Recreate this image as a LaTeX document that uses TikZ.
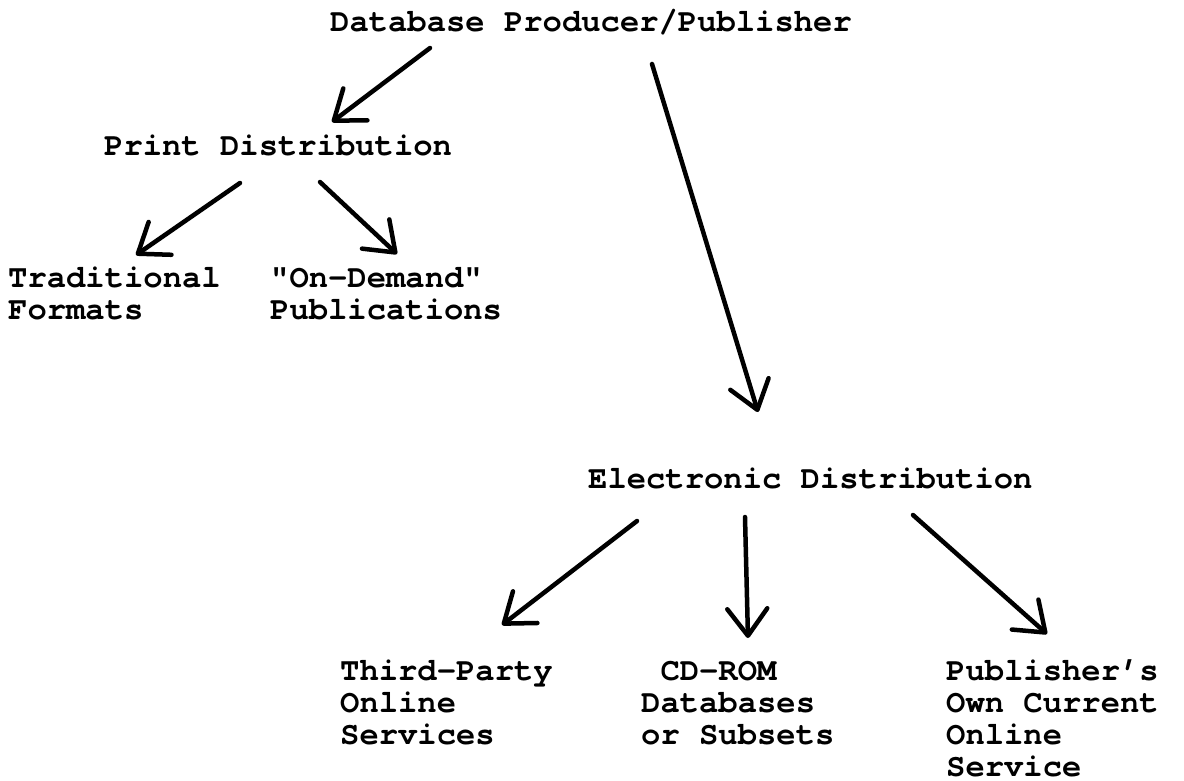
\documentclass[tikz,border=0pt]{standalone}
\usepackage{fontspec}
\setmonofont{TeX Gyre Cursor}
\usetikzlibrary{arrows.meta,calc}
\newcommand\chartfont{\ttfamily\bfseries\fontsize{32.2}{32}\selectfont}
\tikzset{
  % multi-line labels are placed by the baseline of their last line
  txt/.style={anchor=base west, inner sep=0pt, align=left, font=\chartfont},
  arr/.style={line width=4.5pt, line cap=round,
    -{Straight Barb[length=27pt,width=40pt,line width=4.5pt,round]}}
}
\begin{document}
\begin{tikzpicture}[x=1pt,y=-1pt]
\path[use as bounding box, fill=white] (0,0) rectangle (1184,781);

% labels
\node[txt] (db)    at (330,32)  {Database Producer/Publisher};
\node[txt] (print) at (104,156) {Print Distribution};
\node[txt] (trad)  at (8,319)   {Traditional\\Formats};
\node[txt] (ondem) at (270,319) {"On-Demand"\\Publications};
\node[txt] (elec)  at (588,488) {Electronic Distribution};
\node[txt] (third) at (340,744) {Third-Party\\Online\\Services};
\node[txt] (cd)    at (641,744) {\hphantom{C}CD-ROM\\Databases\\or Subsets};
\node[txt] (pub)   at (946,776) {Publisher’s\\Own Current\\Online\\Service};

% connectors
\draw[arr] ($(db.base west)+(100,16)$)     -- ($(print.base west)+(228,-34)$);
\draw[arr] ($(print.base west)+(136,27)$)  -- ($(trad.base west)+(128,-64)$);
\draw[arr] ($(print.base west)+(216,26)$)  -- ($(ondem.base west)+(127,-65)$);
\draw[arr] ($(db.base west)+(322,32)$)     -- ($(elec.base west)+(170,-76)$);
\draw[arr] ($(elec.base west)+(49,33)$)    -- ($(third.base west)+(162,-119)$);
\draw[arr] ($(elec.base west)+(157,29)$)   -- ($(cd.base west)+(107,-106)$);
\draw[arr] ($(elec.base west)+(325,27)$)   -- ($(pub.base west)+(101,-142)$);
\end{tikzpicture}
\end{document}
